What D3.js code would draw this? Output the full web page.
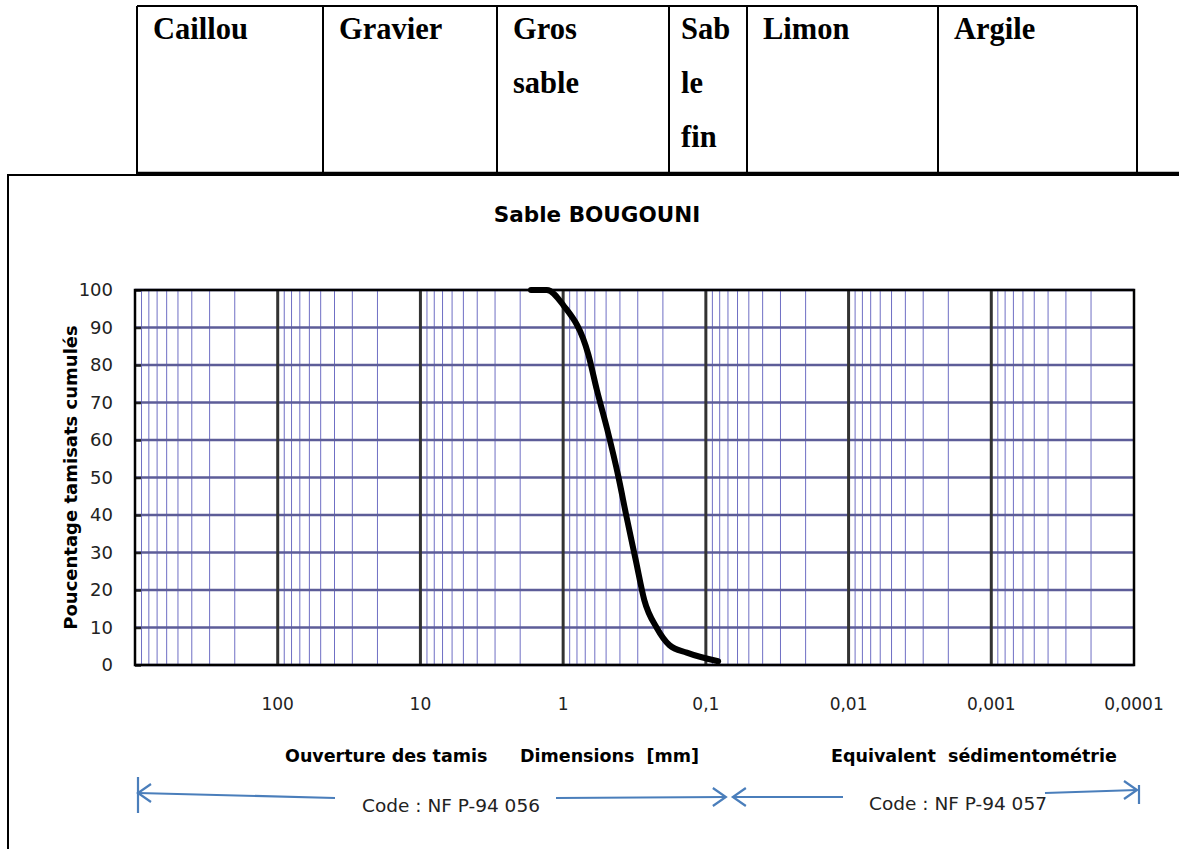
<!DOCTYPE html>
<html>
<head>
<meta charset="utf-8">
<script src="https://cdn.jsdelivr.net/npm/d3@7.9.0/dist/d3.min.js"></script>
<style>
  body { margin: 0; background: #fff; }
  svg { display: block; }
</style>
</head>
<body>
<svg id="chart" width="1179" height="849"></svg>
<script>
// grain-size classes shown in the table above the chart
const classes = ['Caillou', 'Gravier', 'Gros\nsable', 'Sab\nle\nfin', 'Limon', 'Argile'];
const classEdges = [137, 323, 497, 669, 747, 938, 1137];

// sieve curve (diameter in mm, cumulative passing %)
const diameters = [1.68, 1.30, 1.0, 0.665, 0.58, 0.49, 0.41, 0.36, 0.31, 0.27, 0.22, 0.18, 0.136, 0.082];
const passing = [100, 100, 96, 82.7, 73.3, 62.7, 50.2, 39.6, 28, 17.3, 9.8, 5.3, 3.3, 1];

const xTickValues = [100, 10, 1, 0.1, 0.01, 0.001, 0.0001];
const xTickLabels = ['100', '10', '1', '0,1', '0,01', '0,001', '0,0001'];
const yTickValues = d3.range(0, 101, 10);

const sans = '"DejaVu Sans", sans-serif';
const serif = '"Liberation Serif", "Times New Roman", serif';
const blue = '#4a7ebb';

const svg = d3.select('#chart');

// top table
const table = svg.append('g');
table.append('line')
  .attr('x1', classEdges[0]).attr('x2', classEdges[6])
  .attr('y1', 6).attr('y2', 6)
  .attr('stroke', '#000').attr('stroke-width', 2);
table.append('line')
  .attr('x1', classEdges[0]).attr('x2', 1179)
  .attr('y1', 173).attr('y2', 173)
  .attr('stroke', '#000').attr('stroke-width', 2.5);
table.selectAll('line.col')
  .data(classEdges)
  .join('line')
  .attr('class', 'col')
  .attr('x1', d => d).attr('x2', d => d)
  .attr('y1', 6).attr('y2', 174)
  .attr('stroke', '#000').attr('stroke-width', 2);
classes.forEach((c, i) => {
  const tx = classEdges[i] + (i === 3 ? 12 : 16);
  const t = table.append('text')
    .attr('x', tx)
    .attr('y', 39)
    .attr('font-family', serif)
    .attr('font-weight', 'bold')
    .attr('font-size', 30.5);
  c.split('\n').forEach((line, j) => {
    t.append('tspan')
      .attr('x', tx)
      .attr('dy', j === 0 ? 0 : 54)
      .text(line);
  });
});

// outer chart frame
svg.append('path')
  .attr('d', 'M8,849 L8,175 L1179,175')
  .attr('fill', 'none')
  .attr('stroke', '#000').attr('stroke-width', 2);

svg.append('text')
  .attr('x', 597).attr('y', 222)
  .attr('text-anchor', 'middle')
  .attr('font-family', sans).attr('font-weight', 'bold').attr('font-size', 21.5)
  .text('Sable BOUGOUNI');

const x = d3.scaleLog().domain([1000, 0.0001]).range([135, 1134]);
const y = d3.scaleLinear().domain([0, 100]).range([665, 290]);

const grid = svg.append('g');
const allTicks = x.ticks();
const isMajor = v => Math.abs(Math.log10(v) - Math.round(Math.log10(v))) < 1e-9;

grid.selectAll('line.minor')
  .data(allTicks.filter(v => !isMajor(v)))
  .join('line')
  .attr('class', 'minor')
  .attr('x1', d => x(d)).attr('x2', d => x(d))
  .attr('y1', y(100)).attr('y2', y(0))
  .attr('stroke', '#6f6fc4').attr('stroke-width', 1);

grid.selectAll('line.h')
  .data(yTickValues)
  .join('line')
  .attr('class', 'h')
  .attr('x1', x(1000)).attr('x2', x(0.0001))
  .attr('y1', d => y(d)).attr('y2', d => y(d))
  .attr('stroke', '#5d5d98').attr('stroke-width', 2.5);

grid.selectAll('line.major')
  .data(xTickValues.slice(0, -1))
  .join('line')
  .attr('class', 'major')
  .attr('x1', d => x(d)).attr('x2', d => x(d))
  .attr('y1', y(100)).attr('y2', y(0))
  .attr('stroke', '#333').attr('stroke-width', 3);

// y axis with short inner ticks
const yAxis = svg.append('g')
  .attr('transform', `translate(${x(1000)},0)`)
  .call(d3.axisLeft(y).tickValues(yTickValues).tickSizeInner(-6).tickSizeOuter(0).tickPadding(22));
yAxis.select('.domain').remove();
yAxis.selectAll('.tick line').attr('stroke', '#222').attr('stroke-width', 2.5);
yAxis.selectAll('.tick text')
  .attr('font-family', sans).attr('font-size', 18).attr('fill', '#222');

// plot border
svg.append('rect')
  .attr('x', x(1000)).attr('y', y(100))
  .attr('width', x(0.0001) - x(1000)).attr('height', y(0) - y(100))
  .attr('fill', 'none').attr('stroke', '#000').attr('stroke-width', 2.5);

// grading curve
const pts = diameters.map((d, i) => [d, passing[i]]);
svg.append('path')
  .datum(pts)
  .attr('d', d3.line().x(d => x(d[0])).y(d => y(d[1])).curve(d3.curveMonotoneX))
  .attr('fill', 'none')
  .attr('stroke', '#000').attr('stroke-width', 6)
  .attr('stroke-linecap', 'round').attr('stroke-linejoin', 'round');

// x tick labels
svg.append('g')
  .selectAll('text')
  .data(xTickValues)
  .join('text')
  .attr('x', d => x(d)).attr('y', 710)
  .attr('text-anchor', 'middle')
  .attr('font-family', sans).attr('font-size', 17).attr('fill', '#222')
  .text((d, i) => xTickLabels[i]);

svg.append('text')
  .attr('x', 77).attr('y', y(50))
  .attr('transform', `rotate(-90, 77, ${y(50)})`)
  .attr('text-anchor', 'middle')
  .attr('font-family', sans).attr('font-weight', 'bold').attr('font-size', 18)
  .text('Poucentage tamisats cumulés');

const bottomLabels = [
  { text: 'Ouverture des tamis', x: 285 },
  { text: 'Dimensions  [mm]', x: 520 },
  { text: 'Equivalent  sédimentométrie', x: 831 },
];
svg.append('g')
  .selectAll('text')
  .data(bottomLabels)
  .join('text')
  .attr('x', d => d.x).attr('y', 762)
  .attr('font-family', sans).attr('font-weight', 'bold').attr('font-size', 17.5)
  .attr('xml:space', 'preserve')
  .style('white-space', 'pre')
  .text(d => d.text);

// standard arrows
const arrows = svg.append('g')
  .attr('stroke', blue).attr('stroke-width', 2.2).attr('fill', 'none');
function head(xt, yt, dir) {
  arrows.append('path')
    .attr('d', `M${xt - dir * 13},${yt - 9} L${xt},${yt} L${xt - dir * 13},${yt + 9}`);
}
const xl = x(1000) + 3, xm = x(0.1) + 22, xr = x(0.0001) + 3;
arrows.append('line').attr('x1', xl).attr('x2', xl).attr('y1', 777).attr('y2', 813);
arrows.append('line').attr('x1', xl).attr('y1', 793).attr('x2', 335).attr('y2', 798);
head(xl, 793, -1);
arrows.append('line').attr('x1', 556).attr('y1', 798).attr('x2', xm - 2).attr('y2', 797);
head(xm - 2, 797, 1);
arrows.append('line').attr('x1', xm + 5).attr('y1', 797).attr('x2', 843).attr('y2', 797);
head(xm + 5, 797, -1);
arrows.append('line').attr('x1', 1045).attr('y1', 793).attr('x2', xr).attr('y2', 790);
head(xr, 790, 1);
arrows.append('line').attr('x1', xr + 2).attr('x2', xr + 2).attr('y1', 785).attr('y2', 804);

svg.append('g')
  .selectAll('text')
  .data([{ t: 'Code : NF P-94 056', x: 451, y: 812 }, { t: 'Code : NF P-94 057', x: 958, y: 810 }])
  .join('text')
  .attr('x', d => d.x).attr('y', d => d.y)
  .attr('text-anchor', 'middle')
  .attr('font-family', sans).attr('font-size', 18.5).attr('fill', '#222')
  .text(d => d.t);
</script>
</body>
</html>
